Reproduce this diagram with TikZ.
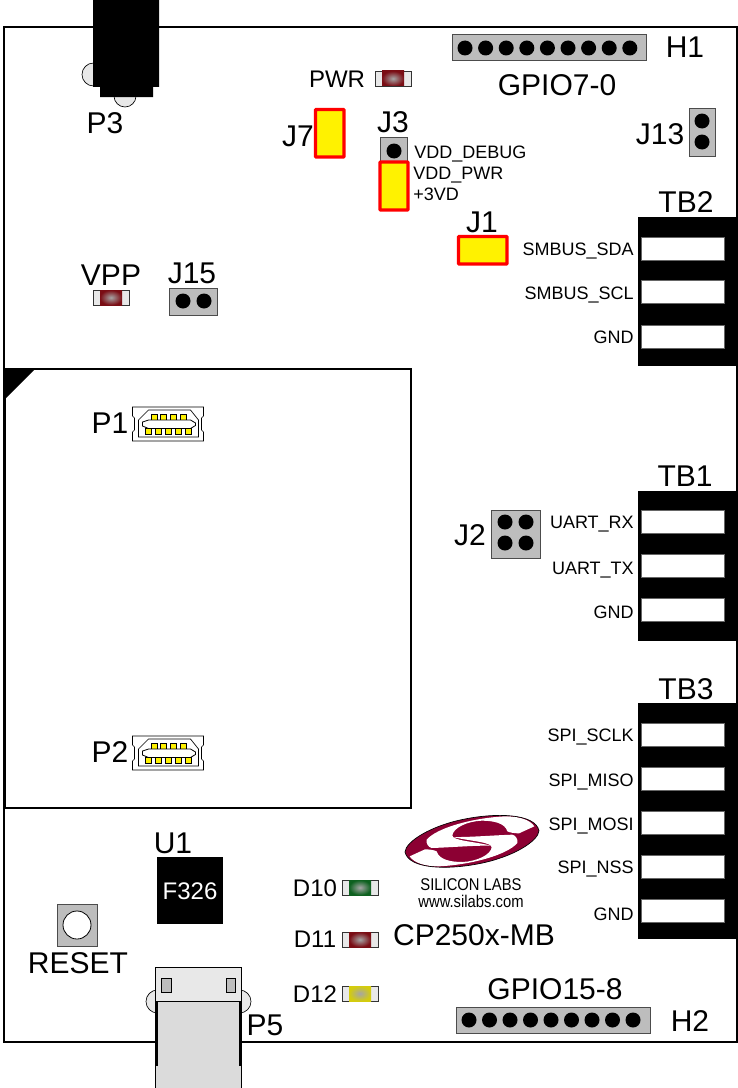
\documentclass[tikz,border=0pt]{standalone}
\usepackage{fontspec}
\setmainfont{Liberation Sans}
\definecolor{pinbody}{rgb}{0.74,0.74,0.74}
\definecolor{padlight}{rgb}{0.91,0.91,0.91}
\definecolor{plugbody}{rgb}{0.86,0.86,0.86}
\definecolor{logored}{rgb}{0.55,0.0,0.2}
\definecolor{ledred}{rgb}{0.48,0.05,0.08}
\definecolor{ledgreen}{rgb}{0.05,0.38,0.12}
\definecolor{ledyellow}{rgb}{0.83,0.80,0.05}
\tikzset{
  lblbig/.style={anchor=base,inner sep=0pt,font=\fontsize{22.5}{24}\selectfont},
  lblmid/.style={anchor=base,inner sep=0pt,font=\fontsize{18}{20}\selectfont},
  lblpin/.style={anchor=base east,inner sep=0pt,font=\fontsize{13.5}{16}\selectfont},
  lblvdd/.style={anchor=base west,inner sep=0pt,font=\fontsize{13.5}{16}\selectfont},
  lbllogo/.style={anchor=base,inner sep=0pt,xscale=0.87,font=\fontsize{12.75}{14}\selectfont},
  header/.style={draw=black!70,fill=pinbody,line width=0.75pt},
  shunt/.style={draw=red,fill=yellow,line width=2.4pt,rounded corners=0.5pt},
  pin/.style={fill=black},
  slot/.style={fill=white,draw=black!60,line width=0.4pt},
  lug/.style={draw=black,fill=padlight,line width=0.5pt},
  ledbody/.style={draw=black!80,fill=padlight,line width=0.5pt},
  ledcore/.style={inner color=black!35,outer color=#1},
  boardline/.style={line width=1.5pt},
  usbmini/.pic={
    \draw [fill=white,line width=0.5pt] (0,0) -- (71,0) -- (71,9) -- (69,11) -- (69,23) -- (71,25) -- (71,34) -- (0,34) -- (0,25) -- (2,23) -- (2,11) -- (0,9) -- cycle ;
    \draw [fill=white,line width=0.5pt] (16,3) -- (58,3) -- (66,13) -- (66,30) -- (6,30) -- (6,13) -- cycle ;
    \foreach \px in {22,31.3,41.3,51.3}
      \draw [fill=yellow,line width=0.6pt] (\px-3,7) rectangle (\px+3,13) ;
    \foreach \px in {16.3,26.3,36.3,46.3,56.3}
      \draw [fill=yellow,line width=0.6pt] (\px-3,21) rectangle (\px+3,27) ;
    \draw [fill=white,line width=0.6pt] (10,15) -- (16,13) -- (58,13) -- (63,16) -- (63,18.5) -- (58,21.5) -- (16,21.5) -- (10,19) -- cycle ;
  },
}

\begin{document}
\begin{tikzpicture}[x=0.75pt,y=0.75pt,yscale=-1,xscale=1]
\useasboundingbox (0,0) rectangle (738,1088);

%Shape: Board outline
\draw [boardline,fill=white] (4,27) -- (737,27) -- (737,1042) -- (4,1042) -- cycle ;
%Shape: Module outline
\draw [boardline] (5,369) -- (411,369) -- (411,808) -- (5,808) -- cycle ;
\fill (5,369) -- (35,369) -- (5,399) -- cycle ;

%Shape: P3 jack
\draw [lug] (93.5,74.5) circle [radius=11.5] ;
\draw [lug] (125,96) circle [radius=11] ;
\fill (93,0) -- (159,0) -- (159,87) -- (153,87) -- (153,97) -- (100,97) -- (100,87) -- (93,87) -- cycle ;

%Shape: H1 header
\draw [header] (452,35) rectangle (646,61) ;
\foreach \nx in {0,...,8}
  \fill [pin] (465+20.6*\nx,48) circle [radius=7.5] ;
%Shape: H2 header
\draw [header] (456,1007) rectangle (650,1033) ;
\foreach \nx in {0,...,8}
  \fill [pin] (469+20.5*\nx,1020) circle [radius=7.5] ;

%Shape: J13
\draw [header] (689,108) rectangle (715,156) ;
\fill [pin] (702,121) circle [radius=7.5] ;
\fill [pin] (702,142) circle [radius=7.5] ;
%Shape: J15
\draw [header] (169,288) rectangle (217,315) ;
\fill [pin] (183,301) circle [radius=7.5] ;
\fill [pin] (204,301) circle [radius=7.5] ;
%Shape: J2
\draw [header] (491,510) rectangle (540,558) ;
\foreach \nx in {505,526}
  \foreach \ny in {522,543}
    \fill [pin] (\nx,\ny) circle [radius=7.5] ;
%Shape: J3
\draw [header] (380,137) rectangle (407,166) ;
\fill [pin] (394,151) circle [radius=7.5] ;

%Shape: shunts
\draw [shunt] (315.5,109.5) rectangle (344,157) ;
\draw [shunt] (380,162) rectangle (408,210) ;
\draw [shunt] (458.5,236.5) rectangle (507,264) ;

%Shape: LEDs
\draw [ledbody] (375,71) rectangle (411,86) ;
\shade [ledcore=ledred] (382,71) rectangle (404,86) ;
\draw [ledbody] (93,290) rectangle (129,305) ;
\shade [ledcore=ledred] (100,290) rectangle (122,305) ;
\draw [ledbody] (342,880) rectangle (378,895) ;
\shade [ledcore=ledgreen] (349,880) rectangle (371,895) ;
\draw [ledbody] (342,932) rectangle (378,947) ;
\shade [ledcore=ledred] (349,932) rectangle (371,947) ;
\draw [ledbody] (342,986) rectangle (378,1001) ;
\shade [ledcore=ledyellow] (349,986) rectangle (371,1001) ;

%Shape: TB2
\fill (638,217) rectangle (738,366) ;
\foreach \ny in {237,280,325}
  \draw [slot] (641,\ny) rectangle (724,\ny+23) ;
%Shape: TB1
\fill (638,491) rectangle (738,641) ;
\foreach \ny in {510,554,598}
  \draw [slot] (641,\ny) rectangle (724,\ny+23) ;
%Shape: TB3
\fill (638,703) rectangle (738,939) ;
\foreach \ny in {723,767,811,855,899}
  \draw [slot] (641,\ny) rectangle (724,\ny+23) ;

%Shape: USB connectors
\pic (usbtop) [yscale=-1] at (132.5,407) {usbmini} ;
\pic (usbbot) [yscale=-1] at (132.5,736) {usbmini} ;

%Shape: U1
\fill (157,857) rectangle (223,924) ;

%Shape: Reset button
\draw [header] (57,904) rectangle (97,946) ;
\draw [fill=white,line width=0.6pt] (77,925) circle [radius=14] ;

%Shape: P5 connector
\draw [lug] (157.5,1001.5) circle [radius=11.5] ;
\draw [lug] (239.5,1001.5) circle [radius=11.5] ;
\draw [fill=plugbody,line width=0.6pt] (155,1001) rectangle (241,1090) ;
\draw [fill=padlight,line width=0.6pt] (155,967) rectangle (241,1001) ;
\draw [line width=1pt] (157,1001) -- (157,1066) ;
\draw [line width=1pt] (240,1001) -- (240,1066) ;
\draw [fill=pinbody,line width=0.4pt] (161,978) rectangle (171,992) ;
\draw [fill=pinbody,line width=0.4pt] (226,978) rectangle (235,992) ;

%Shape: Logo
\begin{scope}[shift={(395,808)},scale=1/3]
\fill [logored] (30,132) .. controls (32,100) and (110,52) .. (210,33) .. controls (300,15) and (420,15) .. (432,68) .. controls (430,100) and (352,148) .. (252,167) .. controls (162,185) and (42,185) .. (30,132) -- cycle ;
\foreach \ang in {0,180}
  \fill [white,rotate around={\ang:(231,100)}] (95,95) .. controls (125,60) and (230,30) .. (330,25) .. controls (370,24) and (405,35) .. (418,55) -- (372,76) .. controls (360,76) and (345,74) .. (337,70) .. controls (330,45) and (295,38) .. (260,38) .. controls (215,40) and (175,60) .. (172,82) .. controls (172,98) and (235,100) .. (288,113) .. controls (240,112) and (170,118) .. (110,120) .. controls (100,118) and (92,105) .. (95,95) -- cycle ;
\draw [line width=0.5pt] (30,132) .. controls (32,100) and (110,52) .. (210,33) .. controls (300,15) and (420,15) .. (432,68) .. controls (430,100) and (352,148) .. (252,167) .. controls (162,185) and (42,185) .. (30,132) -- cycle ;
\end{scope}

% Text Node
\node [lblbig] (txtP3) at (105,133) {P3};
\node [lblmid] (txtPWR) at (337,88) {PWR};
\node [lblbig] (txtJ7) at (298,146) {J7};
\node [lblbig] (txtJ3) at (393,132) {J3};
\node [lblvdd] (txtDebug) at (414,158) {VDD\_DEBUG};
\node [lblvdd] (txtPwrSel) at (413,179) {VDD\_PWR};
\node [lblvdd] (txtThree) at (413,200) {+3VD};
\node [lblbig] (txtJ1) at (482,232) {J1};
\node [lblbig] (txtH1) at (685,58) {H1};
\node [lblbig] (txtGpioLow) at (557,95) {GPIO7-0};
\node [lblbig] (txtJ13) at (660,144) {J13};
\node [lblbig] (txtVPP) at (111,285) {VPP};
\node [lblbig] (txtJ15) at (192,283) {J15};
\node [lblbig] (txtJ2) at (470,545) {J2};
\node [lblbig] (txtP1) at (110,433) {P1};
\node [lblbig] (txtP2) at (110,762) {P2};
\node [lblbig] (txtU1) at (173,853) {U1};
\node [lblmid,white] (txtChip) at (190,899) {F326};
\node [lblbig] (txtReset) at (78,973) {RESET};
\node [lblbig] (txtP5) at (265,1035) {P5};
\node [lblmid] (txtD10) at (315,896) {D10};
\node [lblmid] (txtD11) at (315,947) {D11};
\node [lblmid] (txtD12) at (315,1002) {D12};
\node [lbllogo] (txtLabs) at (471,890) {SILICON LABS};
\node [lbllogo] (txtWeb) at (471,907) {www.silabs.com};
\node [lblbig] (txtBoard) at (474,945) {CP250x-MB};
\node [lblbig] (txtGpioHigh) at (555,999) {GPIO15-8};
\node [lblbig] (txtH2) at (690,1031) {H2};
\node [lblbig] (txtTB2) at (686,212) {TB2};
\node [lblbig] (txtTB1) at (685,486) {TB1};
\node [lblbig] (txtTB3) at (686,699) {TB3};
\node [lblpin] (txtSda) at (634,255) {SMBUS\_SDA};
\node [lblpin] (txtScl) at (634,299) {SMBUS\_SCL};
\node [lblpin] (txtGndA) at (634,343) {GND};
\node [lblpin] (txtRx) at (634,528) {UART\_RX};
\node [lblpin] (txtTx) at (634,574) {UART\_TX};
\node [lblpin] (txtGndB) at (634,618) {GND};
\node [lblpin] (txtSclk) at (634,741) {SPI\_SCLK};
\node [lblpin] (txtMiso) at (634,786) {SPI\_MISO};
\node [lblpin] (txtMosi) at (634,830) {SPI\_MOSI};
\node [lblpin] (txtNss) at (634,873) {SPI\_NSS};
\node [lblpin] (txtGndC) at (634,920) {GND};

\end{tikzpicture}
\end{document}
